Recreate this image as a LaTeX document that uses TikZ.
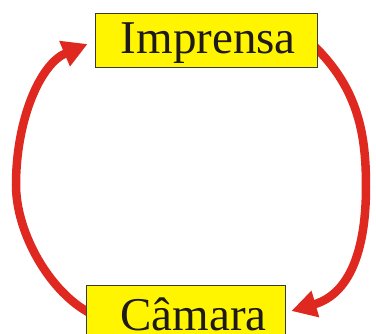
\documentclass[tikz,border=0pt]{standalone}
\usepackage{fontspec}
\setmainfont{Liberation Serif}
\usetikzlibrary{arrows.meta,backgrounds}
\definecolor{boxyellow}{HTML}{FFF500}
\definecolor{loopred}{HTML}{DE2820}
\definecolor{boxedge}{HTML}{3A3A30}
\definecolor{inkdark}{HTML}{1E1A1A}
\begin{document}
\begin{tikzpicture}[x=1pt,y=-1pt,
  label box/.style={draw=boxedge, line width=0.8pt, fill=boxyellow, text=inkdark,
    font=\fontsize{47}{50}\selectfont, inner xsep=0pt, inner ysep=0pt, anchor=base},
  cycle arrow/.style={draw=loopred, line width=8.5pt,
    -{Triangle[length=25pt,width=26pt]}}]
\useasboundingbox (0,0) rectangle (376,334);
\clip (0,0) rectangle (376,334);

% the two labelled boxes
\node[label box, minimum width=222.7pt, text height=40.7pt, text depth=13.3pt]
  (imprensa) at (206.35,53.7) {\hspace*{4pt}Imprensa};
\node[label box, minimum width=199pt, text height=45.5pt, text depth=13.3pt]
  (camara) at (186.2,330.5) {\hspace*{14.6pt}Câmara};

% the loop of arrows, behind the boxes
\begin{scope}[on background layer]
  \draw[cycle arrow] ([xshift=-5pt,yshift=-5pt]imprensa.east)
    .. controls (360,90) and (366,138) .. (366,187)
    .. controls (366,243) and (353,293) .. ([xshift=5.3pt,yshift=3.4pt]camara.east);
  \draw[cycle arrow] ([xshift=5.3pt,yshift=0.4pt]camara.west)
    .. controls (50,293) and (16,233) .. (16,185)
    .. controls (16,120) and (40,64) .. ([xshift=-7pt,yshift=-4pt]imprensa.west);
\end{scope}
\end{tikzpicture}
\end{document}
